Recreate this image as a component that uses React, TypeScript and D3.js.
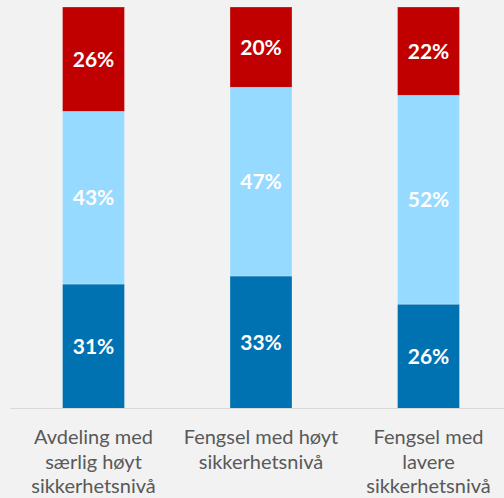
import React from "react";
import * as d3 from "d3";

const categories: string[][] = [
  ["Avdeling med", "særlig høyt", "sikkerhetsnivå"],
  ["Fengsel med høyt", "sikkerhetsnivå"],
  ["Fengsel med", "lavere", "sikkerhetsnivå"],
];
const categoryKeys = ["A", "B", "C"];
const seriesNames = ["low", "mid", "high"];
const lowValues = [31, 33, 26];
const midValues = [43, 47, 52];
const highValues = [26, 20, 22];
const seriesColors = ["#0072B2", "#97DAFF", "#C00000"];

const W = 504;
const H = 498;

export default function App() {
  const rows = categoryKeys.map((k, i) => ({
    key: k,
    low: lowValues[i],
    mid: midValues[i],
    high: highValues[i],
  }));
  const stack = d3.stack<any>().keys(seriesNames);
  const layers = stack(rows);

  const x = d3
    .scaleBand<string>()
    .domain(categoryKeys)
    .range([9.75, 512.25])
    .paddingInner(0.63)
    .paddingOuter(0.315);
  const y = d3.scaleLinear().domain([0, 100]).range([408.5, 7]);

  const font = "Lato, 'Open Sans', sans-serif";

  return (
    <svg
      width={W}
      height={H}
      style={{ position: "absolute", left: 0, top: 0, display: "block" }}
    >
      <rect x={0} y={0} width={W} height={H} fill="#F2F2F2" />
      {layers.map((layer, li) => (
        <g key={layer.key}>
          {layer.map((d, i) => {
            const x0 = x(categoryKeys[i])!;
            const y0 = y(d[1]);
            const y1 = y(d[0]);
            return (
              <g key={i}>
                <rect
                  x={x0}
                  y={y0}
                  width={x.bandwidth()}
                  height={y1 - y0}
                  fill={seriesColors[li]}
                  stroke="#ffffff"
                  strokeOpacity={0.35}
                  strokeWidth={0.75}
                />
                <text
                  x={x0 + x.bandwidth() / 2}
                  y={(y0 + y1) / 2}
                  dy="0.36em"
                  textAnchor="middle"
                  fill="#ffffff"
                  fontFamily={font}
                  fontWeight={700}
                  fontSize={21}
                >
                  {`${d[1] - d[0]}%`}
                </text>
              </g>
            );
          })}
        </g>
      ))}
      <line x1={10} x2={W} y1={408.5} y2={408.5} stroke="#D9D9D9" strokeWidth={1} />
      {categories.map((lines, i) => (
        <text
          key={i}
          x={x(categoryKeys[i])! + x.bandwidth() / 2}
          y={444}
          textAnchor="middle"
          fill="#595959"
          fontFamily={font}
          fontSize={20}
        >
          {lines.map((l, j) => (
            <tspan key={j} x={x(categoryKeys[i])! + x.bandwidth() / 2} dy={j === 0 ? 0 : 24.5}>
              {l}
            </tspan>
          ))}
        </text>
      ))}
    </svg>
  );
}
